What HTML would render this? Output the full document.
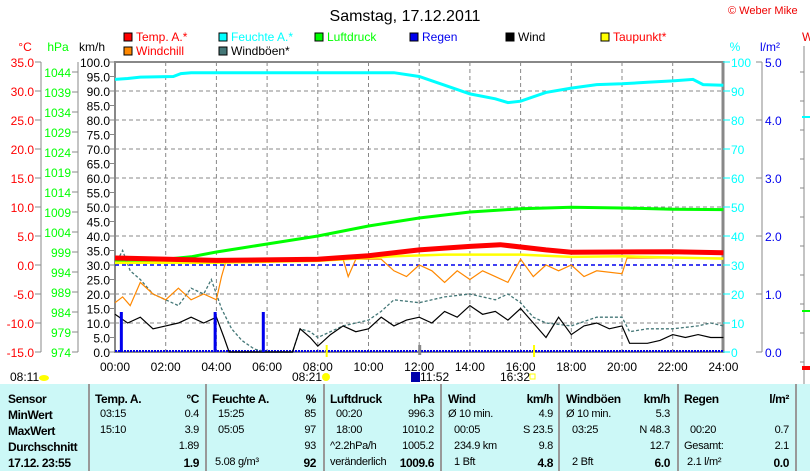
<!DOCTYPE html><html><head><meta charset="utf-8"><style>
body{margin:0;width:810px;height:471px;overflow:hidden;background:#fff;font-family:"Liberation Sans",sans-serif}
svg text{font-family:"Liberation Sans",sans-serif;font-size:12px}
.tb{position:absolute;left:0;top:384px;width:810px;height:87px;background:#ccf8f7}
.r{position:absolute;white-space:nowrap;font-size:11px;letter-spacing:-0.3px}
.b{font-weight:bold;font-size:12px;letter-spacing:-0.4px}
.vl{position:absolute;top:0;width:2px;height:87px;background:#999}
</style></head><body>
<svg id="s" width="810" height="384" style="position:absolute;left:0;top:0"></svg>
<div class="tb" id="tb"></div>
<script>
const s=document.getElementById('s');let h='';
const X=t=>115+t*25.35;
function T(x,y,str,fill,anchor,extra){h+=`<text x="${x}" y="${y}" fill="${fill}" text-anchor="${anchor||'start'}" ${extra||''}>${str}</text>`;}
T(405,21,'Samstag, 17.12.2011','#000','middle','style="font-size:16px"');
T(728,14,'© Weber Mike','#e00','start','style="font-size:11px"');
const L=[[123,41,'#f00','Temp. A.*','#f00'],[218,41,'#0ff','Feuchte A.*','#0ff'],[314,41,'#0f0','Luftdruck','#0f0'],[409,41,'#00e','Regen','#00e'],[505,41,'#000','Wind','#000'],[600,41,'#ff0','Taupunkt*','#f00'],[123,55,'#f80','Windchill','#f00'],[218,55,'#477','Windböen*','#000']];
L.forEach(l=>{h+=`<rect x="${l[0]+1}" y="${l[1]-8}" width="8" height="8" fill="${l[2]}" stroke="#000"/>`;T(l[0]+13,l[1],l[3],l[4])});
T(25,51,'°C','#f00','middle');T(58,51,'hPa','#0f0','middle');T(92,51,'km/h','#000','middle');
T(735,51,'%','#0ff','middle');T(770,51,'l/m²','#00e','middle');T(802,41,'W','#e00');
for(let i=1;i<12;i++)h+=`<line x1="${X(2*i)}" y1="62" x2="${X(2*i)}" y2="352" stroke="#888" stroke-dasharray="4,3"/>`;
for(let i=1;i<10;i++)h+=`<line x1="115" y1="${62+29*i}" x2="723" y2="${62+29*i}" stroke="#888" stroke-dasharray="4,3"/>`;
h+=`<rect x="115" y="62" width="608" height="290" fill="none" stroke="#888" stroke-width="2"/><line x1="723" y1="61" x2="723" y2="353" stroke="#888" stroke-width="3"/><line x1="115" y1="61" x2="115" y2="353" stroke="#888" stroke-width="2"/>`;
h+=`<line x1="41" y1="62" x2="41" y2="352" stroke="#888"/><line x1="78" y1="62" x2="78" y2="352" stroke="#888"/><line x1="762" y1="62" x2="762" y2="352" stroke="#888"/><line x1="804" y1="46" x2="804" y2="384" stroke="#888"/>`;
for(let i=0;i<=10;i++){let y=62+29*i;h+=`<line x1="35" y1="${y}" x2="41" y2="${y}" stroke="#888"/>`;T(34,y+5,(35-5*i).toFixed(1),'#f00','end');}
for(let i=0;i<=14;i++){let y=352-20*i;h+=`<line x1="72" y1="${y}" x2="78" y2="${y}" stroke="#888"/>`;T(71,y+5,974+5*i,'#0f0','end');}
for(let i=0;i<=20;i++){let y=352-14.5*i;h+=`<line x1="110" y1="${y}" x2="115" y2="${y}" stroke="#888"/>`;T(110,y+5,(5*i).toFixed(1),'#000','end');}
for(let i=0;i<=10;i++){let y=352-29*i;h+=`<line x1="723" y1="${y}" x2="730" y2="${y}" stroke="#0ff"/>`;T(731,y+5,10*i,'#0ff');}
for(let i=0;i<=5;i++){let y=352-58*i;h+=`<line x1="756" y1="${y}" x2="762" y2="${y}" stroke="#888"/>`;T(765,y+5,i.toFixed(1),'#00e');}
for(let i=0;i<=10;i++)h+=`<line x1="800" y1="${352-29*i+10}" x2="804" y2="${352-29*i+10}" stroke="#888"/>`;
h+=`<rect x="802" y="116" width="8" height="2" fill="#0ff"/><rect x="802" y="310" width="8" height="2" fill="#0f0"/><rect x="802" y="366" width="8" height="4" fill="#f00"/>`;
for(let i=0;i<=12;i++)T(X(2*i),371,(2*i<10?'0':'')+(2*i)+':00','#000','middle');
function P(pts,fy,st){return `<polyline fill="none" points="${pts.map(p=>X(p[0]).toFixed(1)+','+fy(p[1]).toFixed(1)).join(' ')}" ${st}/>`}
const yT=t=>352-(t+15)*5.8, yP=p=>352-(p-974)*4, yV=v=>352-2.9*v;
h+=`<line x1="115" y1="265" x2="723" y2="265" stroke="#00e" stroke-width="1.5" stroke-dasharray="4,3"/>`;
h+=`<line x1="115" y1="351" x2="723" y2="351" stroke="#00e" stroke-width="2" stroke-dasharray="2,1"/>`;
h+=P([[0,94],[0.5,94.3],[1,94.8],[2.3,95],[2.6,96],[3,96.3],[11,96.3],[12,95],[13,92],[14,89],[15,87.3],[15.5,86],[16,86.5],[17,89.5],[18,91],[19,92.2],[20,92.5],[21,93],[22,93.5],[22.8,94],[23.2,92.2],[24,92]],yV,'stroke="#0ff" stroke-width="3"');
h+=P([[0,996.6],[1,996.8],[2,997.2],[3,997.8],[4,999],[5,1000],[6,1001],[8,1003],[10,1005.5],[12,1007.5],[14,1009],[16,1009.8],[18,1010.2],[20,1010],[22,1009.7],[24,1009.6]],yP,'stroke="#0f0" stroke-width="3"');
h+=P([[0,30],[0.3,35],[0.6,28],[1,25],[1.5,20],[2,18],[2.5,16],[3,22],[3.5,20],[3.8,25],[4.2,15],[4.6,8],[5,4],[5.5,1],[6,0],[7,0],[7.3,8],[7.7,7],[8,5],[9,9],[10,11],[10.5,14],[11,18],[12,17],[13,19],[14,20],[15,18],[15.5,20],[16,17],[16.5,12],[17,10],[18,9],[19,12],[20,12],[20.3,7],[21,8],[22,8],[23,9],[23.5,10],[24,9]],yV,'stroke="#477" stroke-width="1.3" stroke-dasharray="3,2"');
h+=P([[0,13],[0.5,10],[1,12],[1.5,8],[2,9],[2.5,10],[3,12],[3.5,10],[4,12],[4.3,5],[4.5,0],[7,0],[7.3,8],[7.7,5],[8,2],[8.5,6],[9,9],[9.5,7],[10,8],[10.5,12],[11,9],[11.5,11],[12,12],[12.5,10],[13,14],[13.5,12],[14,16],[14.5,13],[15,14],[15.5,11],[16,15],[16.5,10],[17,5],[17.5,12],[18,6],[18.5,9],[19,10],[19.5,8],[20,9],[20.3,3],[21,3],[21.5,4],[22,6],[22.5,5],[23,6],[23.5,5],[24,5]],yV,'stroke="#000" stroke-width="1.2"');
h+=P([[0,-6.5],[0.3,-5.5],[0.6,-7],[1,-3],[1.5,-5],[2,-6],[2.5,-4],[3,-6],[3.5,-5],[4,-6],[4.2,-2],[4.4,1],[9,1],[9.2,-2],[9.5,1],[10.5,1],[11,-1],[11.5,-2],[12,0],[12.5,-1],[13,-3],[13.5,-1],[14,-2.5],[14.5,-1],[15,-2],[15.5,-3],[16,1],[16.5,-2],[17,0],[17.5,-1],[18,0],[18.5,-2],[19,-1],[20,-1.5],[20.2,1.2],[24,1.2]],yT,'stroke="#f80" stroke-width="1.2"');
h+=P([[0,0.4],[4,0.4],[8,0.7],[11,1.5],[13,1.8],[14,1.8],[16,1.8],[18,1.4],[20,1.5],[22,1.3],[24,1.1]],yT,'stroke="#ff0" stroke-width="2.5"');
h+=P([[0,1.2],[4,0.8],[8,1.0],[10,1.6],[12,2.6],[14,3.2],[15.2,3.5],[17,2.6],[18,2.2],[22,2.3],[24,2.1]],yT,'stroke="#f00" stroke-width="5"');
[0.25,3.95,5.85].forEach(t=>h+=`<rect x="${X(t)-1.5}" y="312" width="3" height="40" fill="#00e"/>`);
h+=`<rect x="${X(8.35)-1}" y="345" width="2" height="12" fill="#ff0"/><rect x="${X(16.53)-1}" y="345" width="2" height="12" fill="#ff0"/><rect x="${X(12)-1}" y="345" width="3" height="10" fill="#888"/>`;
T(10,381,'08:11','#000');h+=`<ellipse cx="44" cy="378" rx="5" ry="3" fill="#ff0"/>`;
T(292,381,'08:21','#000');h+=`<circle cx="326" cy="377" r="4" fill="#ff0"/>`;
h+=`<rect x="411" y="372" width="9" height="10" fill="#00a"/>`;T(420,381,'11:52','#000');
T(500,381,'16:32','#000');h+=`<rect x="530" y="374" width="5" height="5" fill="none" stroke="#ff0"/>`;
s.innerHTML=h;
let t='';
[88,205,323,440,558,677,795].forEach(x=>t+=`<div class="vl" style="left:${x}px"></div>`);
const ry=[8,24,40,56,72];
function R(x,i,str,b,right){t+=`<div class="r${b?' b':''}" style="${right?'right:'+(810-x):'left:'+x}px;top:${ry[i]}px">${str}</div>`}
['Sensor','MinWert','MaxWert','Durchschnitt','17.12. 23:55'].forEach((v,i)=>R(8,i,v,1));
R(95,0,'Temp. A.',1);R(199,0,'°C',1,1);R(100,1,'03:15');R(199,1,'0.4',0,1);R(100,2,'15:10');R(199,2,'3.9',0,1);R(199,3,'1.89',0,1);R(199,4,'1.9',1,1);
R(212,0,'Feuchte A.',1);R(316,0,'%',1,1);R(218,1,'15:25');R(316,1,'85',0,1);R(218,2,'05:05');R(316,2,'97',0,1);R(316,3,'93',0,1);R(215,4,'5.08 g/m³');R(316,4,'92',1,1);
R(330,0,'Luftdruck',1);R(434,0,'hPa',1,1);R(336,1,'00:20');R(434,1,'996.3',0,1);R(336,2,'18:00');R(434,2,'1010.2',0,1);R(330,3,'^2.2hPa/h');R(434,3,'1005.2',0,1);R(330,4,'veränderlich');R(434,4,'1009.6',1,1);
R(448,0,'Wind',1);R(553,0,'km/h',1,1);R(448,1,'Ø 10 min.');R(553,1,'4.9',0,1);R(454,2,'00:05');R(553,2,'S 23.5',0,1);R(454,3,'234.9 km');R(553,3,'9.8',0,1);R(454,4,'1 Bft');R(553,4,'4.8',1,1);
R(566,0,'Windböen',1);R(670,0,'km/h',1,1);R(566,1,'Ø 10 min.');R(670,1,'5.3',0,1);R(572,2,'03:25');R(670,2,'N 48.3',0,1);R(670,3,'12.7',0,1);R(572,4,'2 Bft');R(670,4,'6.0',1,1);
R(684,0,'Regen',1);R(789,0,'l/m²',1,1);R(690,2,'00:20');R(789,2,'0.7',0,1);R(684,3,'Gesamt:');R(789,3,'2.1',0,1);R(687,4,'2.1 l/m²');R(789,4,'0.0',1,1);
document.getElementById('tb').innerHTML=t;
</script></body></html>
